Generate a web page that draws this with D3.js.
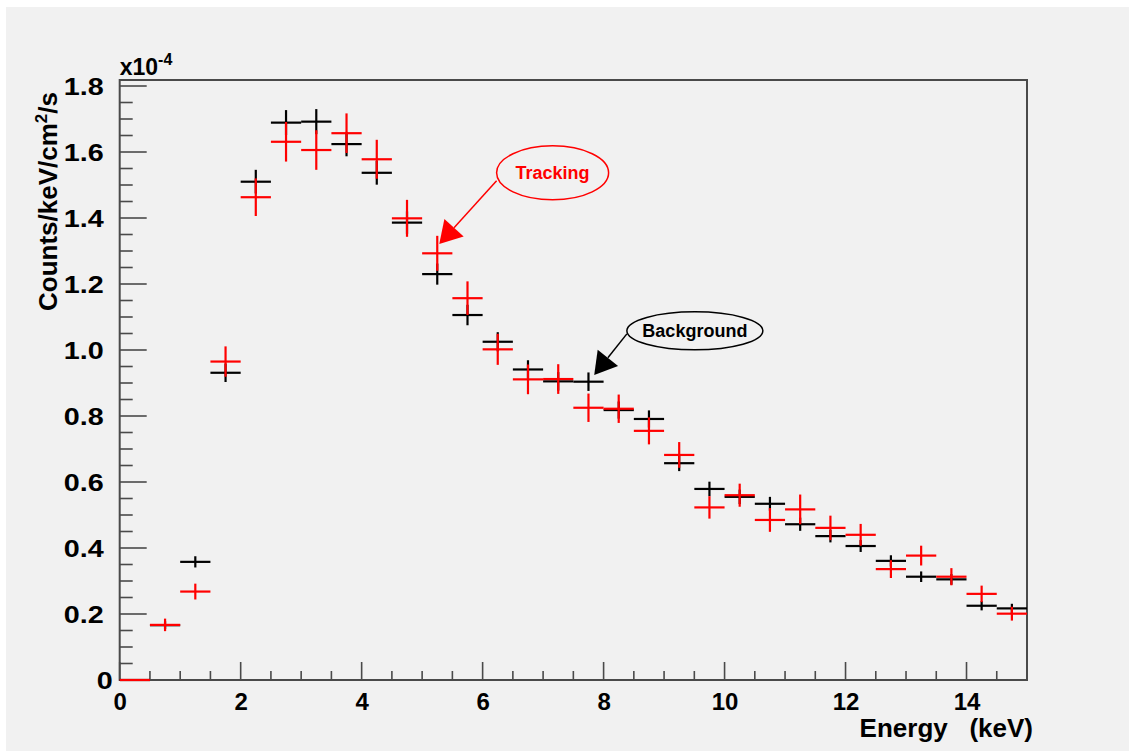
<!DOCTYPE html>
<html>
<head>
<meta charset="utf-8">
<script src="https://cdn.jsdelivr.net/npm/d3@7"></script>
<style>
  html, body { margin: 0; padding: 0; background: #ffffff; }
  svg { display: block; }
  text { font-family: "Liberation Sans", Arial, Helvetica, sans-serif; font-weight: bold; }
</style>
</head>
<body>
<svg id="chart" width="1129" height="751"></svg>
<script>
// Bin centres (keV), 0.5 keV wide bins from 0 to 15 keV
const energy = [0.25, 0.75, 1.25, 1.75, 2.25, 2.75, 3.25, 3.75, 4.25, 4.75,
                5.25, 5.75, 6.25, 6.75, 7.25, 7.75, 8.25, 8.75, 9.25, 9.75,
                10.25, 10.75, 11.25, 11.75, 12.25, 12.75, 13.25, 13.75, 14.25, 14.75];
const binWidth = 0.5;

// Background spectrum, counts/keV/cm^2/s in units of 1e-4
const background = [0, 0.166, 0.358, 0.931, 1.510, 1.689, 1.692, 1.624, 1.537, 1.386,
                    1.230, 1.106, 1.025, 0.941, 0.905, 0.904, 0.818, 0.791, 0.657, 0.579,
                    0.555, 0.534, 0.472, 0.436, 0.406, 0.361, 0.313, 0.305, 0.225, 0.217];
const backgroundErr = [0, 0.012, 0.017, 0.028, 0.036, 0.038, 0.038, 0.037, 0.036, 0.034,
                       0.032, 0.031, 0.029, 0.028, 0.028, 0.028, 0.026, 0.026, 0.024, 0.022,
                       0.022, 0.021, 0.020, 0.019, 0.018, 0.017, 0.016, 0.016, 0.014, 0.014];

// Tracking spectrum, same units
const tracking = [0, 0.167, 0.268, 0.965, 1.463, 1.631, 1.606, 1.657, 1.578, 1.399,
                  1.293, 1.157, 1.002, 0.911, 0.912, 0.825, 0.822, 0.755, 0.682, 0.523,
                  0.560, 0.485, 0.517, 0.461, 0.440, 0.336, 0.377, 0.313, 0.261, 0.201];
const trackingErr = [0, 0.019, 0.024, 0.046, 0.057, 0.060, 0.060, 0.060, 0.059, 0.056,
                     0.053, 0.051, 0.047, 0.045, 0.045, 0.043, 0.043, 0.041, 0.039, 0.034,
                     0.035, 0.036, 0.045, 0.037, 0.033, 0.027, 0.030, 0.026, 0.025, 0.021];

// Axis ticks
const xTicks = [0, 2, 4, 6, 8, 10, 12, 14];
const yTicks = [0, 0.2, 0.4, 0.6, 0.8, 1.0, 1.2, 1.4, 1.6, 1.8];
const yTickLabels = ["0", "0.2", "0.4", "0.6", "0.8", "1.0", "1.2", "1.4", "1.6", "1.8"];

// Callout labels: text, label centre (keV, 1e-4), arrow tip (keV, 1e-4)
const callouts = [
  { text: "Tracking",   cx: 7.157, cy: 1.537, tipX: 5.283, tipY: 1.321, color: "#ff0000", rx: 56, ry: 27 },
  { text: "Background", cx: 9.509, cy: 1.058, tipX: 7.845, tipY: 0.924, color: "#000000", rx: 68, ry: 19 }
];

const svg = d3.select("#chart");
const W = 1129, H = 751;

// Pad background
svg.append("rect").attr("x", 6).attr("y", 7).attr("width", W - 6).attr("height", H - 7)
  .attr("fill", "#f1f1f1");

const frame = { left: 119.7, right: 1027, top: 80, bottom: 680 };
const x = d3.scaleLinear().domain([0, 15]).range([frame.left, frame.right]);
const y = d3.scaleLinear().domain([0, 1.8182]).range([frame.bottom, frame.top]);

const axisColor = "#4a4a4a";

// Minor + major ticks
const g = svg.append("g");
const xMinor = d3.range(0, 15.001, 0.5);
g.selectAll(".xminor").data(xMinor).join("line")
  .attr("x1", d => x(d)).attr("x2", d => x(d))
  .attr("y1", frame.bottom).attr("y2", d => frame.bottom - (Math.abs(d % 2) < 1e-6 ? 18 : 9))
  .attr("stroke", axisColor).attr("stroke-width", 1.6);
const yMinor = d3.range(0, 1.8001, 0.05);
g.selectAll(".yminor").data(yMinor).join("line")
  .attr("y1", d => y(d)).attr("y2", d => y(d))
  .attr("x1", frame.left).attr("x2", d => frame.left + (Math.abs(Math.round(d * 100) % 20) < 1e-6 ? 27 : 13))
  .attr("stroke", axisColor).attr("stroke-width", 1.6);

// Frame
svg.append("rect").attr("x", frame.left).attr("y", frame.top)
  .attr("width", frame.right - frame.left).attr("height", frame.bottom - frame.top)
  .attr("fill", "none").attr("stroke", axisColor).attr("stroke-width", 2);

// Tick labels via d3 axes (lines hidden, text kept)
const xAxis = svg.append("g").attr("transform", `translate(0,${frame.bottom})`)
  .call(d3.axisBottom(x).tickValues(xTicks).tickSize(0).tickPadding(13).tickFormat(d3.format("d")));
xAxis.select(".domain").remove();
xAxis.selectAll("text").attr("font-size", 24).attr("fill", "#000")
  .style("font-family", "'Liberation Sans', Arial, sans-serif").style("font-weight", "bold");

const yAxis = svg.append("g").attr("transform", `translate(${frame.left},0)`)
  .call(d3.axisLeft(y).tickValues(yTicks).tickSize(0).tickFormat((d, i) => yTickLabels[i]));
yAxis.select(".domain").remove();
// Slightly widened labels, right edge a little off the axis
yAxis.selectAll("text").attr("font-size", 23).attr("fill", "#000")
  .attr("x", 0).attr("dy", "0.36em")
  .attr("transform", d => `translate(${d === 0 ? -7 : -16},0) scale(1.25,1)`)
  .style("font-family", "'Liberation Sans', Arial, sans-serif").style("font-weight", "bold");

// Exponent label
const expo = svg.append("text").attr("x", frame.left).attr("y", 75).attr("font-size", 23).attr("fill", "#000");
expo.append("tspan").text("x10");
expo.append("tspan").attr("dy", -10).attr("font-size", 16).text("-4");

// Axis titles
svg.append("text").attr("x", 1033).attr("y", 737).attr("text-anchor", "end")
  .attr("font-size", 26).attr("fill", "#000").style("white-space", "pre").text("Energy   (keV)");

const yt = svg.append("text").attr("transform", "translate(57,92) rotate(-90)")
  .attr("text-anchor", "end").attr("font-size", 26).attr("fill", "#000");
yt.append("tspan").text("Counts/keV/cm");
yt.append("tspan").attr("dy", -10).attr("font-size", 17).text("2");
yt.append("tspan").attr("dy", 10).text("/s");

// Error-bar crosses
function drawSeries(values, errs, color) {
  const s = svg.append("g").attr("stroke", color).attr("stroke-width", 2.2);
  s.selectAll(".h").data(energy).join("line")
    .attr("x1", (d) => x(d - binWidth / 2)).attr("x2", (d) => x(d + binWidth / 2))
    .attr("y1", (d, i) => y(values[i])).attr("y2", (d, i) => y(values[i]));
  s.selectAll(".v").data(energy).join("line")
    .attr("x1", d => x(d)).attr("x2", d => x(d))
    .attr("y1", (d, i) => y(values[i] - errs[i])).attr("y2", (d, i) => y(values[i] + errs[i]));
}
drawSeries(background, backgroundErr, "#000000");
drawSeries(tracking, trackingErr, "#ff0000");

// Callouts: ellipse, text and arrow
callouts.forEach(c => {
  const cx = x(c.cx), cy = y(c.cy);
  const tx = x(c.tipX), ty = y(c.tipY);
  const sx = cx - c.rx, sy = cy + (c.ry > 20 ? 8 : 3);
  const ang = Math.atan2(ty - sy, tx - sx);
  const len = 22, hw = 13;
  const bx = tx - len * Math.cos(ang), by = ty - len * Math.sin(ang);
  svg.append("line").attr("x1", sx).attr("y1", sy).attr("x2", bx).attr("y2", by)
    .attr("stroke", c.color).attr("stroke-width", 1.5);
  svg.append("path")
    .attr("d", `M${tx},${ty}L${bx + hw * Math.sin(ang)},${by - hw * Math.cos(ang)}L${bx - hw * Math.sin(ang)},${by + hw * Math.cos(ang)}Z`)
    .attr("fill", c.color);
  svg.append("ellipse").attr("cx", cx).attr("cy", cy).attr("rx", c.rx).attr("ry", c.ry)
    .attr("fill", "none").attr("stroke", c.color).attr("stroke-width", 1.5);
  svg.append("text").attr("x", cx).attr("y", cy + 6).attr("text-anchor", "middle")
    .attr("font-size", 18).attr("fill", c.color).text(c.text);
});
</script>
</body>
</html>
